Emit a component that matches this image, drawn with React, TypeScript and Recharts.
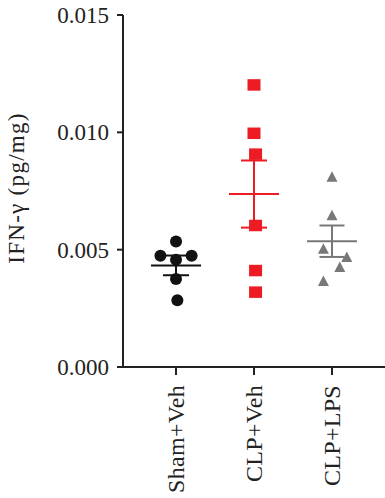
import React from 'react';
import { ScatterChart, Scatter, XAxis, YAxis, ErrorBar, Label } from 'recharts';

const categories = ['Sham+Veh', 'CLP+Veh', 'CLP+LPS'];
const categoryPositions = [1, 2, 3];
const yTicks = [0, 0.005, 0.01, 0.015];

const shamValues = [0.00535, 0.00474, 0.00474, 0.00457, 0.00375, 0.00284];
const shamJitter = [0, -0.2, 0.2, 0, 0, 0.017];
const clpValues = [0.01202, 0.00996, 0.00907, 0.00603, 0.00411, 0.00319];
const clpJitter = [0, 0, 0.02, 0.02, 0.02, 0.02];
const lpsValues = [0.00809, 0.00644, 0.00502, 0.00467, 0.00424, 0.00364];
const lpsJitter = [0, 0, -0.11, 0.19, 0.1, -0.11];

const groupMeans = [0.00433, 0.00737, 0.00536];
const groupSems = [0.00042, 0.00143, 0.00067];

const BLACK = '#111111';
const RED = '#ED1C24';
const GRAY = '#787878';
const AXIS = '#222222';
const FONT = '"Liberation Serif", "Times New Roman", serif';

const toPoints = (values: number[], jitter: number[], pos: number) =>
  values.map((v, i) => ({ x: pos + jitter[i], y: v }));

const shamData = toPoints(shamValues, shamJitter, categoryPositions[0]);
const clpData = toPoints(clpValues, clpJitter, categoryPositions[1]);
const lpsData = toPoints(lpsValues, lpsJitter, categoryPositions[2]);
const meanData = groupMeans.map((m, i) => [{ x: categoryPositions[i], y: m, err: groupSems[i] }]);

const CircleShape = (p: any) => <circle cx={p.cx} cy={p.cy} r={6} fill={BLACK} />;
const SquareShape = (p: any) => (
  <rect x={p.cx - 6.5} y={p.cy - 5.75} width={13} height={11.5} fill={RED} />
);
const TriangleShape = (p: any) => (
  <polygon
    points={`${p.cx},${p.cy - 6} ${p.cx - 5.5},${p.cy + 4.5} ${p.cx + 5.5},${p.cy + 4.5}`}
    fill={GRAY}
  />
);
const meanShape = (color: string) => (p: any) => (
  <line x1={p.cx - 25} x2={p.cx + 25} y1={p.cy} y2={p.cy} stroke={color} strokeWidth={2} />
);

const YTick = (p: any) => (
  <text
    x={p.x}
    y={p.y}
    dy="0.35em"
    textAnchor="end"
    fontFamily={FONT}
    fontSize={23}
    fill={AXIS}
  >
    {Number(p.payload.value).toFixed(3)}
  </text>
);

const XTick = (p: any) => {
  const idx = categoryPositions.indexOf(p.payload.value);
  return (
    <g transform={`translate(${p.x},${p.y + 8})`}>
      <text
        x={0}
        y={0}
        dy={8}
        textAnchor="end"
        transform="rotate(-90)"
        fontFamily={FONT}
        fontSize={24}
        letterSpacing={0.3}
        fill={AXIS}
      >
        {categories[idx]}
      </text>
    </g>
  );
};

const YLabel = (props: any) => {
  const vb = props.viewBox;
  const cy = vb.y + vb.height / 2 - 3;
  const cx = 24;
  return (
    <text
      x={cx}
      y={cy}
      textAnchor="middle"
      transform={`rotate(-90, ${cx}, ${cy})`}
      fontFamily={FONT}
      fontSize={23}
      letterSpacing={1.3}
      fill={AXIS}
    >
      IFN-γ (pg/mg)
    </text>
  );
};

export default function App() {
  return (
    <div style={{ position: 'absolute', left: 0, top: 0 }}>
      <ScatterChart width={385} height={498} margin={{ top: 15, right: 0, bottom: 0, left: 0 }}>
        <XAxis
          type="number"
          dataKey="x"
          domain={[0.32, 3.68]}
          ticks={categoryPositions}
          allowDataOverflow
          height={131}
          tickSize={8}
          tickMargin={2}
          axisLine={{ stroke: AXIS, strokeWidth: 2 }}
          tickLine={{ stroke: AXIS, strokeWidth: 2 }}
          tick={<XTick />}
          interval={0}
        />
        <YAxis
          type="number"
          dataKey="y"
          domain={[0, 0.015]}
          ticks={yTicks}
          width={123}
          tickSize={6}
          tickMargin={8}
          axisLine={{ stroke: AXIS, strokeWidth: 2 }}
          tickLine={{ stroke: AXIS, strokeWidth: 2 }}
          tick={<YTick />}
          interval={0}
        >
          <Label content={<YLabel />} />
        </YAxis>
        <Scatter data={shamData} shape={CircleShape} isAnimationActive={false} />
        <Scatter data={clpData} shape={SquareShape} isAnimationActive={false} />
        <Scatter data={lpsData} shape={TriangleShape} isAnimationActive={false} />
        <Scatter data={meanData[0]} shape={meanShape(BLACK)} isAnimationActive={false}>
          <ErrorBar dataKey="err" direction="y" width={13} stroke={BLACK} strokeWidth={2} isAnimationActive={false} />
        </Scatter>
        <Scatter data={meanData[1]} shape={meanShape(RED)} isAnimationActive={false}>
          <ErrorBar dataKey="err" direction="y" width={13} stroke={RED} strokeWidth={2} isAnimationActive={false} />
        </Scatter>
        <Scatter data={meanData[2]} shape={meanShape(GRAY)} isAnimationActive={false}>
          <ErrorBar dataKey="err" direction="y" width={12.5} stroke={GRAY} strokeWidth={2} isAnimationActive={false} />
        </Scatter>
      </ScatterChart>
    </div>
  );
}
